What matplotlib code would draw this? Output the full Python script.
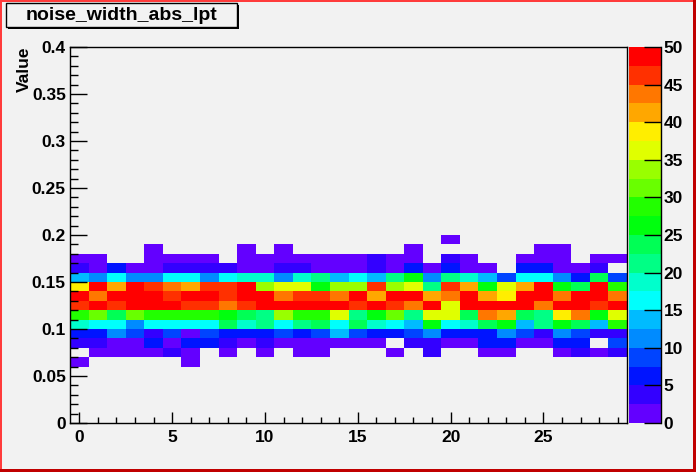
import colorsys
import numpy as np
import matplotlib
matplotlib.use("Agg")
import matplotlib.pyplot as plt
from matplotlib.colors import ListedColormap, BoundaryNorm
from matplotlib.patches import Rectangle
from matplotlib.ticker import MultipleLocator, FuncFormatter

title = "noise_width_abs_lpt"
y_title = "Value"

# x: channel 0..29 ; y: value bins of width 0.01
n_channels = 30
y_bin_width = 0.01
y_max = 0.4
z_max = 50
n_levels = 20

# counts per channel, one list per value bin (lower edge in the name)
counts_006 = [1, 0, 0, 0, 0, 0, 1, 0, 0, 0, 0, 0, 0, 0, 0, 0, 0, 0, 0, 0, 0, 0, 0, 0, 0, 0, 0, 0, 0, 0]
counts_007 = [0, 1, 1, 1, 1, 4, 1, 0, 1, 0, 1, 0, 1, 1, 0, 0, 0, 1, 0, 4, 0, 0, 1, 1, 0, 0, 1, 4, 1, 4]
counts_008 = [4, 4, 1, 1, 6, 1, 6, 6, 4, 1, 4, 1, 1, 1, 1, 1, 1, 0, 4, 4, 1, 1, 6, 6, 1, 1, 6, 6, 0, 9]
counts_009 = [6, 6, 11, 9, 4, 9, 1, 9, 6, 6, 6, 9, 6, 9, 14, 9, 6, 6, 9, 11, 6, 6, 6, 11, 9, 4, 11, 9, 4, 4]
counts_010 = [19, 16, 16, 11, 16, 16, 16, 16, 24, 19, 21, 16, 21, 24, 16, 24, 19, 16, 14, 26, 16, 19, 24, 26, 14, 21, 26, 24, 14, 29]
counts_011 = [29, 31, 24, 31, 29, 29, 29, 29, 26, 24, 21, 34, 29, 29, 36, 21, 26, 31, 21, 36, 36, 24, 44, 41, 24, 21, 39, 44, 26, 36]
counts_012 = [46, 49, 46, 49, 49, 49, 46, 46, 44, 46, 49, 49, 49, 49, 49, 46, 49, 46, 44, 49, 36, 49, 49, 49, 49, 44, 49, 49, 46, 49]
counts_013 = [49, 44, 49, 49, 49, 46, 49, 49, 46, 49, 49, 44, 46, 46, 44, 49, 41, 49, 49, 41, 44, 49, 41, 39, 49, 49, 44, 49, 49, 44]
counts_014 = [39, 49, 41, 49, 46, 44, 41, 46, 46, 49, 34, 36, 36, 26, 34, 34, 46, 34, 36, 21, 46, 41, 26, 36, 41, 49, 26, 24, 49, 29]
counts_015 = [14, 11, 16, 11, 11, 16, 16, 11, 16, 19, 19, 11, 19, 21, 14, 16, 14, 21, 26, 11, 21, 19, 14, 9, 16, 16, 11, 6, 24, 9]
counts_016 = [4, 1, 6, 1, 1, 4, 4, 4, 4, 1, 1, 4, 4, 1, 1, 1, 4, 1, 6, 1, 6, 1, 1, 0, 6, 6, 1, 1, 4, 0]
counts_017 = [1, 1, 0, 0, 1, 1, 1, 1, 0, 1, 1, 1, 1, 1, 1, 1, 4, 1, 1, 0, 4, 1, 0, 0, 1, 1, 1, 0, 1, 1]
counts_018 = [0, 0, 0, 0, 1, 0, 0, 0, 0, 1, 0, 1, 0, 0, 0, 0, 0, 0, 1, 0, 0, 0, 0, 0, 0, 1, 1, 0, 0, 0]
counts_019 = [0, 0, 0, 0, 0, 0, 0, 0, 0, 0, 0, 0, 0, 0, 0, 0, 0, 0, 0, 0, 1, 0, 0, 0, 0, 0, 0, 0, 0, 0]

rows = {
    0.06: counts_006, 0.07: counts_007, 0.08: counts_008, 0.09: counts_009,
    0.10: counts_010, 0.11: counts_011, 0.12: counts_012, 0.13: counts_013,
    0.14: counts_014, 0.15: counts_015, 0.16: counts_016, 0.17: counts_017,
    0.18: counts_018, 0.19: counts_019,
}

n_ybins = int(round(y_max / y_bin_width))
z = np.zeros((n_ybins, n_channels))
for low, vals in rows.items():
    z[int(round(low / y_bin_width))] = vals
z = np.ma.masked_equal(z, 0)

x_edges = np.arange(n_channels + 1) - 0.5
y_edges = np.linspace(0, y_max, n_ybins + 1)

# old ROOT "pretty" palette: 50 hues violet -> red, 20 contour levels picked out of it
pretty = []
for i in range(50):
    hue = 280 - (i + 1) * 280 / 50
    pretty.append(colorsys.hls_to_rgb(hue / 360, 0.5, 1.0))
level_cols = [pretty[int((j + 0.99) * 50 / n_levels)] for j in range(n_levels)]
cmap = ListedColormap(level_cols)
levels = np.linspace(0, z_max, n_levels + 1)
norm = BoundaryNorm(levels, cmap.N)

bg = "#f2f2f2"
font = "Liberation Sans"
plt.rcParams["font.family"] = [font, "DejaVu Sans"]
plt.rcParams["font.weight"] = "bold"

W, H = 696, 472
fig = plt.figure(figsize=(W / 100, H / 100), dpi=100, facecolor=bg)
ax = fig.add_axes([70 / W, 1 - 423 / H, 557 / W, 376 / H])
ax.set_facecolor(bg)

mesh = ax.pcolormesh(x_edges, y_edges, z, cmap=cmap, norm=norm,
                     edgecolors="none", antialiased=False)

ax.set_xlim(x_edges[0], x_edges[-1])
ax.set_ylim(0, y_max)
ax.xaxis.set_major_locator(MultipleLocator(5))
ax.xaxis.set_minor_locator(MultipleLocator(1))
ax.yaxis.set_major_locator(MultipleLocator(0.05))
ax.yaxis.set_minor_locator(MultipleLocator(0.01))
ax.yaxis.set_major_formatter(FuncFormatter(lambda v, p: "%g" % round(v, 3)))
ax.xaxis.set_major_formatter(FuncFormatter(lambda v, p: "%g" % v))

ax.tick_params(axis="x", which="major", direction="in", length=8, width=1, pad=5, labelsize=12.5)
ax.tick_params(axis="x", which="minor", direction="in", length=4, width=1)
ax.tick_params(axis="y", which="major", direction="in", length=12.2, width=1, pad=3, labelsize=12.5)
ax.tick_params(axis="y", which="minor", direction="in", length=6.1, width=1)
for lab in ax.get_xticklabels() + ax.get_yticklabels():
    lab.set_fontweight("bold")
for sp in ax.spines.values():
    sp.set_linewidth(1)
    sp.set_color("black")

fig.text(24.5 / W, 1 - 47 / H, y_title, rotation=90, ha="center", va="top",
         fontsize=12.5, fontweight="bold")

# palette axis on the right
cax = fig.add_axes([629 / W, 1 - 423 / H, 32 / W, 376 / H])
cbar = fig.colorbar(mesh, cax=cax, ticks=np.arange(0, z_max + 1, 5))
cbar.outline.set_visible(False)
cax.spines["right"].set_visible(True)
cax.spines["right"].set_linewidth(1)
cax.tick_params(which="major", direction="in", length=12.2, width=1, pad=2,
                labelsize=12.5, right=True, left=False)
cax.minorticks_off()
cax.yaxis.set_major_formatter(FuncFormatter(lambda v, p: "%g" % v))
for lab in cax.get_yticklabels():
    lab.set_fontweight("bold")

# title box with shadow
fig.patches.append(Rectangle((8 / W, 1 - 29 / H), 231 / W, 24 / H, transform=fig.transFigure,
                             facecolor="black", edgecolor="black", lw=0, zorder=5))
fig.patches.append(Rectangle((6 / W, 1 - 27 / H), 231 / W, 24 / H, transform=fig.transFigure,
                             facecolor=bg, edgecolor="black", lw=1, zorder=6))
fig.text(121.5 / W, 1 - 15 / H, title, ha="center", va="center", fontsize=14,
         fontweight="bold", zorder=7)

# canvas border (raised look)
fig.patches.append(Rectangle((0, 0), 2 / W, 1, transform=fig.transFigure,
                             facecolor="#ff3b3b", lw=0, zorder=8))
fig.patches.append(Rectangle((0, 1 - 2 / H), 1, 2 / H, transform=fig.transFigure,
                             facecolor="#ff3b3b", lw=0, zorder=8))
fig.patches.append(Rectangle((1 - 3 / W, 0), 3 / W, 1, transform=fig.transFigure,
                             facecolor="#c00000", lw=0, zorder=9))
fig.patches.append(Rectangle((0, 0), 1, 3 / H, transform=fig.transFigure,
                             facecolor="#c00000", lw=0, zorder=9))

fig.savefig("out.png", dpi=100, facecolor=bg)
